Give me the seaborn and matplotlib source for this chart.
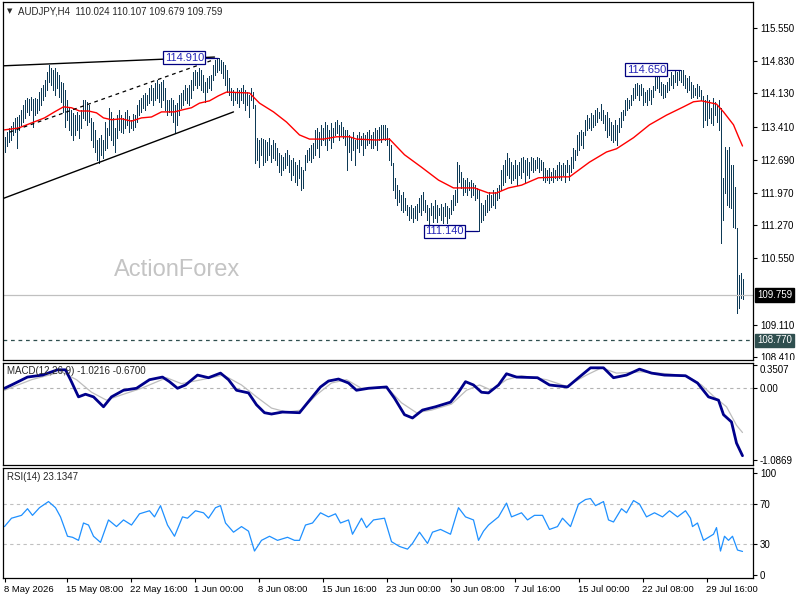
"""
AUDJPY H4 chart (price bars + MA, MACD, RSI) redrawn with seaborn/matplotlib.
Saves out.png (800x600).
"""
import matplotlib
matplotlib.use("Agg")
import matplotlib.pyplot as plt
import matplotlib.transforms as mtrans
import seaborn as sns

# ---------------- data ----------------
title_text = "AUDJPY,H4  110.024 110.107 109.679 109.759"
last_close = 109.759
support_level = 108.770

bar_high = [
    113.19, 113.30, 113.38, 113.43, 113.51, 113.60, 113.62, 113.66, 113.77, 113.88,
    113.99, 114.03, 114.01, 114.05, 114.01, 114.03, 114.01, 114.16, 114.25, 114.31,
    114.42, 114.60, 114.75, 114.68, 114.64, 114.68, 114.60, 114.53, 114.38, 114.36,
    114.21, 113.99, 113.82, 113.77, 113.71, 113.66, 113.73, 113.66, 113.77, 113.99,
    113.99, 113.95, 113.88, 113.60, 113.51, 113.34, 113.12, 113.17, 113.23, 113.12,
    113.51, 113.38, 113.82, 113.73, 113.60, 113.38, 113.66, 113.77, 113.66, 113.60,
    113.73, 113.77, 113.64, 113.56, 113.68, 113.66, 113.88, 113.99, 114.03, 114.10,
    114.14, 114.10, 114.25, 114.31, 114.25, 114.36, 114.42, 114.34, 114.38, 114.42,
    114.25, 113.99, 113.99, 114.03, 113.99, 113.88, 113.92, 114.10, 114.14, 114.21,
    114.31, 114.25, 114.31, 114.42, 114.60, 114.64, 114.60, 114.68, 114.64, 114.53,
    114.38, 114.47, 114.51, 114.53, 114.75, 114.86, 114.90, 114.91, 114.86, 114.81,
    114.75, 114.64, 114.47, 114.25, 114.21, 114.16, 114.25, 114.21, 114.25, 114.31,
    114.21, 114.16, 114.10, 114.25, 114.16, 113.88, 113.17, 113.12, 113.17, 113.15,
    113.12, 113.08, 113.17, 113.01, 113.12, 113.06, 112.95, 112.84, 112.80, 112.75,
    112.84, 112.91, 112.80, 112.69, 112.73, 112.64, 112.58, 112.69, 112.53, 112.47,
    112.80, 112.91, 112.95, 113.01, 113.06, 113.34, 113.38, 113.30, 113.45, 113.38,
    113.51, 113.45, 113.34, 113.49, 113.38, 113.51, 113.56, 113.45, 113.51, 113.40,
    113.34, 113.34, 113.23, 113.17, 113.30, 113.12, 113.23, 113.30, 113.21, 113.28,
    113.23, 113.30, 113.34, 113.23, 113.30, 113.38, 113.34, 113.40, 113.45, 113.45,
    113.45, 113.38, 113.17, 113.01, 112.62, 112.30, 112.14, 112.04, 111.93, 111.99,
    111.86, 111.71, 111.67, 111.71, 111.65, 111.69, 111.73, 111.86, 111.93, 111.99,
    111.82, 111.71, 111.65, 111.75, 111.69, 111.82, 111.71, 111.65, 111.73, 111.67,
    111.75, 111.69, 111.65, 111.82, 111.93, 112.04, 112.64, 112.58, 112.43, 112.30,
    112.25, 112.30, 112.21, 112.25, 112.19, 112.14, 112.08, 112.04, 111.75, 111.71,
    111.82, 111.93, 111.99, 111.93, 112.04, 111.99, 112.08, 112.14, 112.47, 112.58,
    112.69, 112.84, 112.73, 112.64, 112.58, 112.69, 112.58, 112.64, 112.73, 112.75,
    112.69, 112.73, 112.64, 112.75, 112.73, 112.69, 112.75, 112.73, 112.69, 112.64,
    112.51, 112.47, 112.51, 112.43, 112.51, 112.47, 112.58, 112.64, 112.58, 112.62,
    112.58, 112.69, 112.58, 112.75, 112.95, 112.91, 113.23, 113.30, 113.34, 113.30,
    113.56, 113.66, 113.60, 113.71, 113.66, 113.77, 113.82, 113.73, 113.90, 113.77,
    113.66, 113.73, 113.60, 113.51, 113.45, 113.56, 113.45, 113.60, 113.73, 113.77,
    113.99, 114.03, 113.99, 114.10, 114.25, 114.34, 114.36, 114.31, 114.34, 114.25,
    114.16, 114.21, 114.25, 114.21, 114.29, 114.53, 114.57, 114.49, 114.38, 114.34,
    114.31, 114.38, 114.47, 114.60, 114.53, 114.64, 114.60, 114.64, 114.65, 114.64,
    114.53, 114.47, 114.51, 114.38, 114.31, 114.25, 114.34, 114.29, 114.21, 114.08,
    113.99, 114.10, 113.99, 113.82, 114.03, 113.95, 113.88, 113.99, 113.82, 112.30,
    112.97, 112.91, 112.97, 112.58, 112.58, 112.10, 111.21, 110.19, 110.23, 110.107,
]

bar_low = [
    112.86, 112.99, 113.08, 113.12, 113.23, 113.30, 112.95, 113.34, 113.45, 113.51,
    113.60, 113.73, 113.66, 113.77, 113.40, 113.66, 113.70, 113.77, 113.88, 113.99,
    114.08, 114.21, 114.38, 114.31, 114.21, 114.10, 114.25, 114.05, 113.95, 113.73,
    113.40, 113.56, 113.34, 113.23, 113.12, 113.23, 113.34, 113.17, 113.38, 113.60,
    113.56, 113.45, 113.51, 113.12, 112.97, 112.86, 112.69, 112.62, 112.80, 112.73,
    112.91, 112.95, 113.23, 113.12, 113.01, 112.86, 113.17, 113.34, 113.30, 113.28,
    113.38, 113.45, 113.30, 113.38, 113.34, 113.40, 113.51, 113.66, 113.73, 113.82,
    113.77, 113.88, 113.92, 113.99, 113.88, 113.99, 114.03, 113.95, 113.84, 113.99,
    113.77, 113.66, 113.73, 113.66, 113.51, 113.30, 113.45, 113.66, 113.82, 113.88,
    113.99, 113.92, 113.88, 114.03, 114.21, 114.31, 114.25, 114.31, 114.21, 114.16,
    113.95, 114.16, 114.25, 114.21, 114.42, 114.53, 114.60, 114.64, 114.57, 114.47,
    114.31, 114.16, 114.10, 113.99, 113.88, 113.99, 113.92, 113.84, 113.99, 113.92,
    113.77, 113.88, 113.62, 113.99, 113.82, 112.62, 112.69, 112.53, 112.80, 112.58,
    112.64, 112.69, 112.80, 112.64, 112.73, 112.69, 112.58, 112.43, 112.36, 112.47,
    112.51, 112.58, 112.43, 112.25, 112.36, 112.21, 112.14, 112.30, 112.04, 112.08,
    112.47, 112.64, 112.69, 112.64, 112.73, 112.80, 112.95, 112.75, 113.01, 113.12,
    113.01, 112.91, 113.12, 112.95, 113.08, 113.23, 113.28, 113.12, 113.23, 113.17,
    113.01, 112.47, 112.86, 112.69, 112.91, 112.58, 112.95, 112.86, 113.01, 112.80,
    112.95, 113.01, 113.06, 112.95, 112.95, 113.01, 112.91, 113.12, 113.08, 113.17,
    113.12, 113.01, 112.69, 112.58, 112.04, 111.86, 111.71, 111.78, 111.60, 111.56,
    111.60, 111.49, 111.39, 111.43, 111.34, 111.43, 111.39, 111.56, 111.49, 111.60,
    111.56, 111.39, 111.28, 111.49, 111.34, 111.43, 111.34, 111.49, 111.39, 111.32,
    111.47, 111.32, 111.43, 111.51, 111.60, 111.71, 111.78, 112.21, 112.08, 111.93,
    111.99, 111.93, 112.04, 111.88, 111.93, 111.82, 111.86, 111.14, 111.34, 111.39,
    111.49, 111.56, 111.60, 111.67, 111.71, 111.65, 111.82, 111.86, 112.04, 112.14,
    112.21, 112.36, 112.30, 112.19, 112.25, 112.30, 112.14, 112.36, 112.30, 112.43,
    112.21, 112.36, 112.30, 112.47, 112.43, 112.47, 112.51, 112.43, 112.47, 112.25,
    112.21, 112.25, 112.19, 112.25, 112.21, 112.30, 112.25, 112.30, 112.25, 112.36,
    112.21, 112.43, 112.25, 112.43, 112.51, 112.69, 112.80, 112.91, 113.01, 112.95,
    113.23, 113.34, 113.38, 113.34, 113.40, 113.45, 113.51, 113.60, 113.56, 113.49,
    113.34, 113.19, 113.23, 113.12, 113.08, 113.12, 113.01, 113.30, 113.40, 113.56,
    113.66, 113.77, 113.82, 113.88, 113.99, 114.03, 114.10, 113.99, 114.10, 113.88,
    113.95, 113.88, 113.99, 113.90, 114.05, 114.21, 114.25, 114.16, 114.10, 114.03,
    114.05, 114.16, 114.21, 114.31, 114.25, 114.38, 114.31, 114.42, 114.38, 114.31,
    114.25, 114.16, 114.21, 114.03, 114.05, 114.10, 114.03, 114.07, 113.99, 113.40,
    113.56, 113.45, 113.60, 113.49, 113.45, 113.66, 113.51, 113.34, 110.88, 111.39,
    111.97, 111.71, 111.67, 111.65, 111.23, 111.21, 109.37, 109.48, 109.69, 109.679,
]

# red moving average, sampled along the bars (bar index, price)
ma_idx = [0, 7, 13.5, 20, 25, 29.5, 33.5, 37.5, 42, 46, 49.5, 53.5, 58.5, 63.5, 68.5,
          73.5, 78.5, 85, 88.5, 93.5, 97.5, 102.5, 107, 111, 122.5, 127.5, 134.5, 141,
          147.5, 152.5, 159.5, 166, 172.5, 176, 186, 192.5, 200, 208.5, 217, 224.5, 235,
          242, 246, 252, 258.5, 267, 278.5, 282.5, 292.5, 301, 306, 314.5, 322.5, 331,
          339.5, 344.5, 348.5, 356, 359.5, 364.5, 367, 369]
ma_val = [113.34, 113.38, 113.49, 113.60, 113.73, 113.84, 113.82, 113.75, 113.75, 113.71,
          113.60, 113.56, 113.58, 113.53, 113.60, 113.62, 113.73, 113.73, 113.77, 113.82,
          113.92, 113.97, 114.08, 114.16, 114.14, 113.92, 113.73, 113.51, 113.23, 113.14,
          113.14, 113.19, 113.19, 113.14, 113.12, 113.14, 112.80, 112.53, 112.25, 112.08,
          112.08, 111.97, 111.97, 112.08, 112.14, 112.30, 112.32, 112.32, 112.64, 112.86,
          112.93, 113.17, 113.45, 113.66, 113.84, 113.95, 113.97, 113.90, 113.73, 113.45,
          113.19, 112.99]

# MACD(12,26,9) main line and signal line
macd_idx = [0, 3.5, 11.5, 19, 26.5, 30.5, 33, 37, 40.5, 44.5, 49.5, 53.5, 59.5, 66, 72.5,
            79, 82.5, 86.5, 90.5, 96.5, 102, 108, 112, 116, 122, 126, 130, 133.5, 139,
            147.5, 151.5, 158, 162, 167, 172, 176, 182, 191, 195, 200, 204, 209, 215.5,
            223, 227, 230.5, 234.5, 238.5, 242, 247, 251, 256, 266.5, 272.5, 281.5, 287,
            293, 299.5, 304.5, 311, 317.5, 323.5, 330, 340.5, 346.5, 352, 357, 359.5,
            363.5, 366, 369]
macd_val = [0.00, 0.05, 0.17, 0.20, 0.28, 0.28, 0.13, -0.13, -0.09, -0.13, -0.28, -0.13,
            -0.03, 0.00, 0.13, 0.17, 0.10, 0.00, 0.05, 0.20, 0.16, 0.23, 0.13, -0.03,
            -0.07, -0.25, -0.37, -0.39, -0.36, -0.37, -0.22, 0.02, 0.11, 0.14, 0.08,
            -0.03, 0.00, 0.02, -0.15, -0.40, -0.45, -0.33, -0.28, -0.21, -0.06, 0.10,
            0.05, -0.06, -0.07, 0.05, 0.22, 0.17, 0.16, 0.05, 0.02, 0.16, 0.31, 0.31,
            0.16, 0.20, 0.29, 0.23, 0.20, 0.19, 0.08, -0.13, -0.18, -0.40, -0.51, -0.83,
            -1.0216]
signal_idx = [0, 13.5, 28.5, 36, 43.5, 51, 58.5, 68.5, 81, 88.5, 98.5, 109.5, 118.5, 126,
              133.5, 141, 148.5, 156, 163.5, 171, 178.5, 191, 198.5, 206, 213.5, 223.5,
              231, 237.5, 243.5, 251, 258.5, 271, 281, 291, 298.5, 306, 318.5, 331, 341,
              348.5, 354.5, 361, 366, 369]
signal_val = [-0.03, 0.13, 0.25, 0.13, -0.06, -0.18, -0.10, 0.00, 0.16, 0.07, 0.13, 0.20,
              0.05, -0.13, -0.30, -0.36, -0.33, -0.10, 0.08, 0.13, 0.00, 0.02, -0.22,
              -0.37, -0.33, -0.24, -0.03, 0.05, -0.03, 0.13, 0.19, 0.13, 0.03, 0.20, 0.31,
              0.23, 0.25, 0.22, 0.19, 0.05, -0.12, -0.28, -0.56, -0.67]

# RSI(14)
rsi_idx = [0, 3.5, 8.5, 11.5, 14, 17.5, 22, 25.5, 28, 31.5, 34, 37, 39.5, 42, 44.5, 48,
           52, 56, 59.5, 63.5, 67.5, 72.5, 75, 78, 81.5, 85, 89, 91.5, 95.5, 99.5, 102,
           105.5, 108, 110.5, 114.5, 118.5, 122, 125, 128.5, 132.5, 136.5, 141.5, 145,
           147.5, 150.5, 154, 158, 162, 165.5, 168, 172, 174, 178.5, 181, 184.5, 190,
           193.5, 197.5, 201.5, 204, 207.5, 211.5, 214, 218, 223, 227, 230.5, 234.5, 237,
           239.5, 242, 247, 251, 253.5, 258.5, 261.5, 265, 269, 272.5, 276.5, 279, 283,
           287, 290.5, 293, 295.5, 299.5, 302, 304.5, 308.5, 311, 314.5, 317.5, 321, 325,
           329, 332.5, 336.5, 340.5, 343, 344, 346.5, 349.5, 352, 354.5, 356, 358, 360,
           362, 364, 366.5, 369]
rsi_val = [47.5, 55.7, 58.5, 65, 58.5, 66, 72, 66, 57, 38, 37, 34, 51, 49, 38, 32, 54,
           47.5, 54, 49, 60, 63, 57, 68, 49, 38, 57, 55.7, 63, 61, 55.7, 66, 68, 51, 42,
           47.5, 43, 23.5, 34, 38, 34, 37, 34, 34, 49, 51, 61, 57, 60, 51, 54, 40, 55.7,
           46.5, 54, 55.7, 32.7, 28, 25.4, 31, 42, 31, 42, 44.7, 40, 66, 57, 54, 34, 43,
           49, 57, 70.5, 57, 61, 54, 58.5, 58.5, 44.7, 47.5, 55.7, 47.5, 69.5, 74, 75, 68,
           72, 54, 52, 65, 61, 73, 69.5, 57, 61, 57, 63, 57, 63, 55.7, 47.5, 51, 34, 37,
           40, 46.5, 23.5, 38, 34, 38, 24.5, 23.1347]

# swing high / low labels (bar index, price)
swing_idx = [107, 338, 237]
swing_price = [114.910, 114.650, 111.140]

# hand-drawn channel lines (bar index pairs, price pairs)
top_line_idx, top_line_px = [-0.75, 105], [114.73, 114.92]
dash_line_idx, dash_line_px = [2.5, 104.5], [113.29, 114.86]
low_line_idx, low_line_px = [-0.75, 114.5], [111.85, 113.73]

price_ticks = [115.550, 114.830, 114.130, 113.410, 112.690, 111.970, 111.270, 110.550,
               109.110, 108.410]
macd_ticks = [0.3507, 0.0, -1.0869]
macd_tick_labels = ["0.3507", "0.00", "-1.0869"]
rsi_ticks = [100, 70, 30, 0]

date_ticks = [0, 31, 63, 95, 127, 159, 191, 223, 255, 287, 319, 351]
date_labels = ["8 May 2026", "15 May 08:00", "22 May 16:00", "1 Jun 00:00", "8 Jun 08:00",
               "15 Jun 16:00", "23 Jun 00:00", "30 Jun 08:00", "7 Jul 16:00",
               "15 Jul 00:00", "22 Jul 08:00", "29 Jul 16:00"]

# ---------------- styling ----------------
BAR_COLOR = "#0e3a56"
W, H = 800, 600

sns.set_theme(style="white")
plt.rcParams["font.family"] = ["Liberation Sans", "DejaVu Sans"]
plt.rcParams["axes.linewidth"] = 0.8


def fx(px):
    return px / W


def fy(py):
    return 1 - py / H


fig = plt.figure(figsize=(8, 6), dpi=100)
left, width = fx(3), (753 - 3) / W
ax_p = fig.add_axes([left, fy(360), width, 358 / H])
ax_m = fig.add_axes([left, fy(465), width, 102 / H], sharex=ax_p)
ax_r = fig.add_axes([left, fy(578), width, 110 / H], sharex=ax_p)

for ax in (ax_p, ax_m, ax_r):
    for sp in ax.spines.values():
        sp.set_color("black")
        sp.set_linewidth(0.9)
    ax.yaxis.tick_right()
    ax.tick_params(axis="y", which="both", right=True, left=False, length=3, width=0.8,
                   color="black", labelsize=7, pad=2, labelcolor="black")

# ---- price panel ----
bar_idx = list(range(len(bar_high)))
ax_p.vlines(bar_idx, bar_low, bar_high, color=BAR_COLOR, lw=0.45, antialiased=False)
sns.lineplot(x=ma_idx, y=ma_val, ax=ax_p, color="#ff0000", lw=1.0, sort=False)

ax_p.plot(top_line_idx, top_line_px, color="black", lw=1.0)
ax_p.plot(dash_line_idx, dash_line_px, color="black", lw=0.9, ls=(0, (3, 3)))
ax_p.plot(low_line_idx, low_line_px, color="black", lw=1.0)

ax_p.axhline(last_close, color="#c0c0c0", lw=0.9)
ax_p.axhline(support_level, color="#2f4f4f", lw=0.9, ls=(0, (3, 3)))

for idx, price in zip(swing_idx, swing_price):
    ax_p.plot([idx - 6.5, idx - 0.5], [price, price], color="#000080", lw=0.9)
    ax_p.text(idx - 7.3, price, f"{price:.3f}", ha="right", va="center", fontsize=8,
              color="#2424b8",
              bbox=dict(boxstyle="square,pad=0.12", fc="white", ec="#000080", lw=0.9))

blend = mtrans.blended_transform_factory(ax_p.transAxes, ax_p.transData)
ax_p.text(1 + 4 / 750, last_close, f"{last_close:.3f}", transform=blend, ha="left",
          va="center", fontsize=7, color="white", zorder=5,
          bbox=dict(boxstyle="square,pad=0.2", fc="black", ec="black"))
ax_p.text(1 + 4 / 750, support_level, f"{support_level:.3f}", transform=blend, ha="left",
          va="center", fontsize=7, color="white", zorder=5,
          bbox=dict(boxstyle="square,pad=0.2", fc="#2f4f4f", ec="#2f4f4f"))

ax_p.set_xlim(-0.75, 374.25)
ax_p.set_ylim(108.346, 116.115)
ax_p.set_yticks(price_ticks)
ax_p.set_yticklabels([f"{t:.3f}" for t in price_ticks])
ax_p.set_xlabel("")
ax_p.set_ylabel("")

# the lowest price label is cut by the MACD window, as on the terminal
price_clip = mtrans.TransformedBbox(mtrans.Bbox([[0, fy(360)], [1, 1]]), fig.transFigure)
for lab in ax_p.get_yticklabels():
    lab.set_clip_box(price_clip)
    lab.set_clip_on(True)

# ---- MACD panel ----
ax_m.axhline(0, color="#b4b4b4", lw=0.8, ls=(0, (3, 3)))
sns.lineplot(x=signal_idx, y=signal_val, ax=ax_m, color="#bdbdbd", lw=0.9, sort=False)
sns.lineplot(x=macd_idx, y=macd_val, ax=ax_m, color="#00008b", lw=2.0, sort=False)
ax_m.set_ylim(-1.162, 0.383)
ax_m.set_yticks(macd_ticks)
ax_m.set_yticklabels(macd_tick_labels)
ax_m.set_xlabel("")
ax_m.set_ylabel("")
for lab in ax_m.get_yticklabels():
    if lab.get_text() == "0.3507":
        lab.set_va("top")

# ---- RSI panel ----
ax_r.axhline(70, color="#c0c0c0", lw=0.8, ls=(0, (3, 3)))
ax_r.axhline(30, color="#c0c0c0", lw=0.8, ls=(0, (3, 3)))
sns.lineplot(x=rsi_idx, y=rsi_val, ax=ax_r, color="#1e90ff", lw=0.9, sort=False)
ax_r.set_ylim(-2.9, 104.9)
ax_r.set_yticks(rsi_ticks)
ax_r.set_yticklabels([str(t) for t in rsi_ticks])
ax_r.set_xlabel("")
ax_r.set_ylabel("")

# ---- time axis ----
ax_r.set_xticks(date_ticks)
ax_r.set_xticklabels(date_labels)
for lab in ax_r.get_xticklabels():
    lab.set_ha("left")
ax_r.tick_params(axis="x", bottom=True, length=3, width=0.8, color="black",
                 labelsize=6.8, pad=2, labelcolor="black")
for ax in (ax_p, ax_m):
    ax.tick_params(axis="x", bottom=False, labelbottom=False)

# ---- header texts ----
fig.text(fx(7), fy(11), "\u25bc", fontsize=5, va="center", ha="left",
         family=["DejaVu Sans"])
fig.text(fx(18), fy(11), title_text, fontsize=7, va="center", ha="left")
fig.text(fx(7), fy(371), "MACD(12,26,9) -1.0216 -0.6700", fontsize=7, va="center",
         ha="left")
fig.text(fx(7), fy(477), "RSI(14) 23.1347", fontsize=7, va="center", ha="left")
fig.text(fx(114), fy(276), "ActionForex", fontsize=17, color="#c4c4c4",
         va="baseline", ha="left")

fig.savefig("out.png", dpi=100, facecolor="white")
plt.close(fig)
